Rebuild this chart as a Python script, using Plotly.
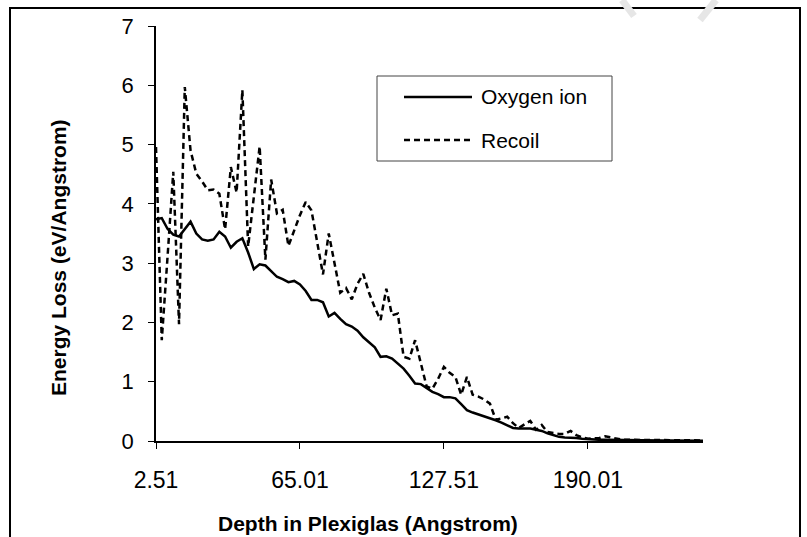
import plotly.graph_objects as go

# ---- data ----
depth_start = 2.51
depth_step = 2.5
oxygen_ion = [3.74, 3.76, 3.58, 3.48, 3.45, 3.58, 3.70, 3.50, 3.40, 3.38,
              3.40, 3.53, 3.45, 3.26, 3.36, 3.42, 3.18, 2.90, 2.98, 2.96,
              2.86, 2.77, 2.73, 2.68, 2.70, 2.64, 2.53, 2.38, 2.38, 2.34,
              2.10, 2.16, 2.06, 1.97, 1.93, 1.86, 1.75, 1.66, 1.58, 1.42,
              1.43, 1.39, 1.31, 1.22, 1.10, 0.97, 0.96, 0.90, 0.83, 0.79,
              0.74, 0.74, 0.72, 0.62, 0.52, 0.48, 0.45, 0.42, 0.38, 0.35,
              0.31, 0.26, 0.22, 0.21, 0.21, 0.21, 0.19, 0.17, 0.13, 0.10,
              0.07, 0.06, 0.06, 0.05, 0.04, 0.03, 0.03, 0.02, 0.02, 0.02,
              0.015, 0.015, 0.01, 0.01, 0.01, 0.01, 0.01, 0.008, 0.008, 0.007,
              0.007, 0.006, 0.006, 0.005, 0.005, 0.005]
recoil = [4.96, 1.70, 3.10, 4.54, 1.97, 5.97, 4.90, 4.51, 4.38, 4.23,
          4.24, 4.17, 3.57, 4.62, 4.19, 5.92, 3.28, 4.12, 4.97, 3.06,
          4.41, 3.84, 3.90, 3.29, 3.56, 3.81, 4.03, 3.89, 3.35, 2.81,
          3.50, 3.00, 2.50, 2.58, 2.39, 2.65, 2.82, 2.50, 2.25, 2.04,
          2.57, 2.12, 2.15, 1.42, 1.39, 1.70, 1.30, 0.92, 0.88, 1.05,
          1.25, 1.15, 1.08, 0.78, 1.08, 0.78, 0.75, 0.70, 0.63, 0.36,
          0.38, 0.41, 0.30, 0.22, 0.28, 0.34, 0.19, 0.27, 0.15, 0.13,
          0.12, 0.12, 0.17, 0.10, 0.06, 0.04, 0.04, 0.05, 0.08, 0.06,
          0.03, 0.02, 0.02, 0.02, 0.02, 0.015, 0.015, 0.015, 0.01, 0.01,
          0.02, 0.01, 0.01, 0.01, 0.01, 0.01]
depth = [round(depth_start + depth_step * i, 2) for i in range(len(oxygen_ion))]
x_ticks = [2.51, 65.01, 127.51, 190.01]
y_ticks = [0, 1, 2, 3, 4, 5, 6, 7]
series_names = ["Oxygen ion", "Recoil"]

W, H = 807, 537
ML, MR, MT, MB = 156, 104, 26, 96
PW, PH = W - ML - MR, H - MT - MB


def px(x):
    return (x - ML) / PW


def py(y):
    return (H - MB - y) / PH


FONT = "Liberation Sans, Arial, sans-serif"

fig = go.Figure()
fig.add_trace(go.Scatter(x=depth, y=oxygen_ion, mode="lines", name=series_names[0],
                         line=dict(color="black", width=2.5), showlegend=False))
fig.add_trace(go.Scatter(x=depth, y=recoil, mode="lines", name=series_names[1],
                         line=dict(color="black", width=2.5, dash="6px,4px"), showlegend=False))

shapes = []
# outer frame
shapes.append(dict(type="rect", xref="paper", yref="paper",
                   x0=px(10), x1=px(800), y0=py(560), y1=py(8),
                   line=dict(color="black", width=2), layer="below"))
# faint watermark strokes at top edge
shapes.append(dict(type="line", xref="paper", yref="paper",
                   x0=px(622), x1=px(634), y0=py(0), y1=py(16),
                   line=dict(color="#e6e6e6", width=7), layer="below"))
shapes.append(dict(type="line", xref="paper", yref="paper",
                   x0=px(716), x1=px(700), y0=py(0), y1=py(20),
                   line=dict(color="#e6e6e6", width=7), layer="below"))
# legend box
shapes.append(dict(type="rect", xref="paper", yref="paper",
                   x0=px(377), x1=px(612), y0=py(161), y1=py(76),
                   line=dict(color="#444", width=1), fillcolor="white"))
shapes.append(dict(type="line", xref="paper", yref="paper",
                   x0=px(404), x1=px(472), y0=py(97), y1=py(97),
                   line=dict(color="black", width=2.5)))
shapes.append(dict(type="line", xref="paper", yref="paper",
                   x0=px(404), x1=px(472), y0=py(140), y1=py(140),
                   line=dict(color="black", width=2.5, dash="6px,4px")))

annotations = [
    dict(text=series_names[0], xref="paper", yref="paper", x=px(479), y=py(97),
         xanchor="left", yanchor="middle", showarrow=False,
         font=dict(family=FONT, size=21, color="black")),
    dict(text=series_names[1], xref="paper", yref="paper", x=px(479), y=py(140),
         xanchor="left", yanchor="middle", showarrow=False,
         font=dict(family=FONT, size=21, color="black")),
    dict(text="<b>Depth in Plexiglas (Angstrom)</b>", xref="paper", yref="paper",
         x=px(368), y=py(523), xanchor="center", yanchor="middle", showarrow=False,
         font=dict(family=FONT, size=21, color="black")),
    dict(text="<b>Energy Loss (eV/Angstrom)</b>", xref="paper", yref="paper",
         x=px(58), y=py(258), xanchor="center", yanchor="middle", showarrow=False,
         textangle=-90, font=dict(family=FONT, size=21, color="black")),
]

fig.update_layout(
    width=W, height=H,
    margin=dict(l=ML, r=MR, t=MT, b=MB, pad=0),
    paper_bgcolor="white", plot_bgcolor="white",
    shapes=shapes, annotations=annotations,
    showlegend=False,
    font=dict(family=FONT, size=22, color="black"),
    xaxis=dict(range=[depth[0], depth[-1]], tickmode="array", tickvals=x_ticks,
               ticktext=[f"{v:.2f}" for v in x_ticks],
               showgrid=False, zeroline=False, showline=True, linecolor="black", linewidth=1.5,
               ticks="outside", ticklen=6, tickcolor="black", tickwidth=1,
               ticklabelstandoff=12, tickfont=dict(family=FONT, size=23)),
    yaxis=dict(range=[0, 7], tickmode="array", tickvals=y_ticks,
               showgrid=False, zeroline=False, showline=True, linecolor="black", linewidth=1.5,
               ticks="outside", ticklen=6, tickcolor="black", tickwidth=1,
               ticklabelstandoff=10, tickfont=dict(family=FONT, size=22)),
)

fig.write_html("out.html", config={"displayModeBar": False},
               post_script="document.body.style.margin='0';document.body.style.overflow='hidden';")
